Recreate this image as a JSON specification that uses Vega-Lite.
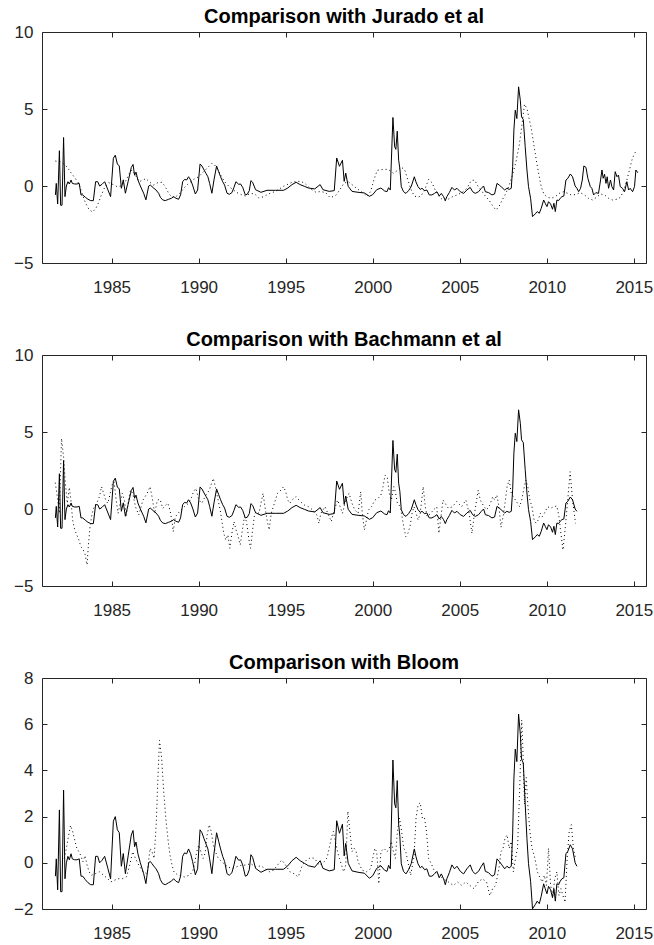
{
  "$schema": "https://vega.github.io/schema/vega-lite/v6.json",
  "padding": {"left": 13, "top": 6, "right": 2, "bottom": 2},
  "bounds": "flush",
  "spacing": 92,
  "config": {
    "font": "Liberation Sans",
    "view": {"stroke": "#262626", "strokeWidth": 1},
    "axis": {
      "grid": false,
      "domain": false,
      "title": null,
      "tickColor": "#262626",
      "tickWidth": 1,
      "tickSize": -5,
      "labelColor": "#262626",
      "labelFont": "Liberation Sans",
      "labelFontSize": 17
    },
    "axisX": {"labelPadding": 21},
    "axisY": {"labelPadding": 14},
    "title": {"font": "Liberation Sans", "fontSize": 20, "fontWeight": "bold", "color": "#000000", "anchor": "middle", "offset": -4},
    "line": {"strokeWidth": 1}
  },
  "datasets": {
    "solid": [
      {"t":1981.77,"v":-0.58},{"t":1981.82,"v":0.17},{"t":1981.90,"v":-1.17},{"t":1982.00,"v":2.29},{"t":1982.07,"v":-1.25},{"t":1982.15,"v":-1.25},{"t":1982.24,"v":3.15},{"t":1982.32,"v":-0.69},{"t":1982.40,"v":0.0},{"t":1982.49,"v":0.28},{"t":1982.57,"v":0.13},{"t":1982.67,"v":0.39},{"t":1982.74,"v":0.17},{"t":1982.88,"v":0.13},{"t":1983.01,"v":0.13},{"t":1983.14,"v":0.17},{"t":1983.24,"v":-0.58},{"t":1983.34,"v":-0.58},{"t":1983.49,"v":-0.73},{"t":1983.64,"v":-0.86},{"t":1983.80,"v":-0.95},{"t":1983.95,"v":-0.95},{"t":1984.08,"v":0.28},{"t":1984.20,"v":0.28},{"t":1984.31,"v":0.0},{"t":1984.45,"v":0.11},{"t":1984.60,"v":0.28},{"t":1984.79,"v":-0.26},{"t":1984.94,"v":-0.69},{"t":1985.10,"v":1.8},{"t":1985.21,"v":2.0},{"t":1985.33,"v":1.43},{"t":1985.44,"v":1.3},{"t":1985.56,"v":-0.15},{"t":1985.67,"v":0.4},{"t":1985.79,"v":-0.47},{"t":1985.95,"v":0.3},{"t":1986.13,"v":1.2},{"t":1986.23,"v":1.4},{"t":1986.32,"v":0.7},{"t":1986.40,"v":0.9},{"t":1986.51,"v":0.39},{"t":1986.65,"v":0.0},{"t":1986.84,"v":-0.47},{"t":1986.97,"v":-0.9},{"t":1987.13,"v":0.0},{"t":1987.22,"v":0.06},{"t":1987.32,"v":-0.04},{"t":1987.43,"v":-0.15},{"t":1987.55,"v":-0.26},{"t":1987.70,"v":-0.47},{"t":1987.80,"v":-0.73},{"t":1987.93,"v":-0.9},{"t":1988.08,"v":-0.95},{"t":1988.28,"v":-0.86},{"t":1988.43,"v":-0.8},{"t":1988.56,"v":-0.69},{"t":1988.70,"v":-0.8},{"t":1988.85,"v":-0.86},{"t":1988.96,"v":-0.58},{"t":1989.08,"v":0.28},{"t":1989.19,"v":0.43},{"t":1989.31,"v":0.39},{"t":1989.42,"v":0.6},{"t":1989.54,"v":0.39},{"t":1989.65,"v":0.06},{"t":1989.81,"v":-0.52},{"t":1989.94,"v":-0.26},{"t":1990.08,"v":1.43},{"t":1990.19,"v":1.3},{"t":1990.31,"v":1.04},{"t":1990.42,"v":0.82},{"t":1990.53,"v":0.6},{"t":1990.63,"v":0.17},{"t":1990.76,"v":-0.47},{"t":1990.88,"v":0.39},{"t":1991.03,"v":1.3},{"t":1991.15,"v":0.93},{"t":1991.26,"v":0.6},{"t":1991.38,"v":0.28},{"t":1991.49,"v":0.06},{"t":1991.63,"v":-0.47},{"t":1991.76,"v":-0.54},{"t":1991.91,"v":-0.43},{"t":1992.03,"v":-0.09},{"t":1992.14,"v":0.28},{"t":1992.30,"v":0.11},{"t":1992.41,"v":0.13},{"t":1992.53,"v":-0.09},{"t":1992.68,"v":-0.58},{"t":1992.79,"v":-0.54},{"t":1992.91,"v":-0.3},{"t":1993.00,"v":0.35},{"t":1993.10,"v":0.24},{"t":1993.27,"v":-0.24},{"t":1993.58,"v":-0.41},{"t":1993.93,"v":-0.28},{"t":1994.41,"v":-0.28},{"t":1994.88,"v":-0.28},{"t":1995.12,"v":-0.13},{"t":1995.36,"v":0.09},{"t":1995.60,"v":0.24},{"t":1995.83,"v":0.09},{"t":1996.07,"v":-0.02},{"t":1996.31,"v":-0.13},{"t":1996.67,"v":-0.19},{"t":1996.98,"v":0.09},{"t":1997.14,"v":-0.24},{"t":1997.50,"v":-0.35},{"t":1997.79,"v":-0.3},{"t":1997.93,"v":1.82},{"t":1998.09,"v":1.28},{"t":1998.26,"v":1.67},{"t":1998.36,"v":0.3},{"t":1998.45,"v":0.84},{"t":1998.59,"v":-0.02},{"t":1998.81,"v":-0.35},{"t":1999.16,"v":-0.41},{"t":1999.52,"v":-0.45},{"t":1999.81,"v":-0.67},{"t":2000.00,"v":-0.56},{"t":2000.23,"v":-0.24},{"t":2000.47,"v":-0.13},{"t":2000.68,"v":-0.32},{"t":2000.82,"v":-0.37},{"t":2000.91,"v":-0.11},{"t":2001.01,"v":-0.26},{"t":2001.16,"v":4.45},{"t":2001.26,"v":2.55},{"t":2001.33,"v":2.38},{"t":2001.41,"v":3.56},{"t":2001.49,"v":1.68},{"t":2001.56,"v":1.14},{"t":2001.64,"v":-0.04},{"t":2001.77,"v":-0.37},{"t":2001.91,"v":-0.48},{"t":2002.06,"v":-0.3},{"t":2002.21,"v":-0.04},{"t":2002.39,"v":0.6},{"t":2002.48,"v":0.28},{"t":2002.60,"v":-0.04},{"t":2002.73,"v":-0.22},{"t":2002.83,"v":-0.15},{"t":2002.98,"v":-0.3},{"t":2003.11,"v":-0.26},{"t":2003.25,"v":-0.58},{"t":2003.40,"v":-0.58},{"t":2003.55,"v":-0.48},{"t":2003.69,"v":-0.37},{"t":2003.82,"v":-0.65},{"t":2003.94,"v":-0.48},{"t":2004.07,"v":-0.69},{"t":2004.17,"v":-0.95},{"t":2004.26,"v":-0.69},{"t":2004.40,"v":-0.43},{"t":2004.55,"v":-0.09},{"t":2004.70,"v":-0.26},{"t":2004.84,"v":-0.15},{"t":2005.03,"v":-0.37},{"t":2005.22,"v":-0.48},{"t":2005.41,"v":-0.26},{"t":2005.60,"v":-0.09},{"t":2005.74,"v":-0.37},{"t":2005.89,"v":-0.48},{"t":2006.08,"v":-0.37},{"t":2006.24,"v":-0.15},{"t":2006.37,"v":0.0},{"t":2006.47,"v":-0.37},{"t":2006.66,"v":-0.43},{"t":2006.85,"v":-0.58},{"t":2007.00,"v":-0.52},{"t":2007.14,"v":0.17},{"t":2007.27,"v":0.06},{"t":2007.42,"v":-0.09},{"t":2007.58,"v":-0.26},{"t":2007.71,"v":-0.15},{"t":2007.84,"v":-0.22},{"t":2007.96,"v":-0.15},{"t":2008.04,"v":1.25},{"t":2008.11,"v":3.63},{"t":2008.19,"v":4.92},{"t":2008.28,"v":4.38},{"t":2008.38,"v":6.44},{"t":2008.48,"v":5.57},{"t":2008.55,"v":4.49},{"t":2008.65,"v":4.32},{"t":2008.76,"v":2.55},{"t":2008.86,"v":1.04},{"t":2008.95,"v":-0.04},{"t":2009.07,"v":-0.8},{"t":2009.18,"v":-1.99},{"t":2009.34,"v":-1.81},{"t":2009.45,"v":-1.66},{"t":2009.57,"v":-1.77},{"t":2009.68,"v":-1.45},{"t":2009.82,"v":-0.91},{"t":2009.91,"v":-1.12},{"t":2010.01,"v":-1.34},{"t":2010.10,"v":-1.02},{"t":2010.22,"v":-1.17},{"t":2010.33,"v":-1.51},{"t":2010.41,"v":-1.12},{"t":2010.49,"v":-1.66},{"t":2010.58,"v":-0.91},{"t":2010.68,"v":-0.95},{"t":2010.77,"v":-0.8},{"t":2010.87,"v":-0.69},{"t":2010.98,"v":-0.65},{"t":2011.10,"v":0.39},{"t":2011.21,"v":0.5},{"t":2011.35,"v":0.78},{"t":2011.48,"v":0.6},{"t":2011.63,"v":0.0},{"t":2011.73,"v":-0.15},{"t":2011.83,"v":-0.37},{"t":2011.94,"v":-0.15},{"t":2012.04,"v":0.39},{"t":2012.13,"v":1.3},{"t":2012.25,"v":1.21},{"t":2012.36,"v":0.5},{"t":2012.50,"v":-0.04},{"t":2012.59,"v":-0.15},{"t":2012.69,"v":-0.58},{"t":2012.82,"v":-0.43},{"t":2012.97,"v":-0.48},{"t":2013.09,"v":0.39},{"t":2013.17,"v":1.04},{"t":2013.24,"v":0.5},{"t":2013.32,"v":0.76},{"t":2013.40,"v":0.17},{"t":2013.47,"v":0.6},{"t":2013.55,"v":-0.15},{"t":2013.66,"v":0.39},{"t":2013.74,"v":-0.04},{"t":2013.84,"v":-0.26},{"t":2013.93,"v":0.93},{"t":2014.03,"v":0.6},{"t":2014.12,"v":0.71},{"t":2014.22,"v":-0.04},{"t":2014.35,"v":-0.15},{"t":2014.47,"v":-0.37},{"t":2014.60,"v":0.28},{"t":2014.70,"v":-0.26},{"t":2014.79,"v":-0.15},{"t":2014.93,"v":-0.37},{"t":2015.04,"v":-0.04},{"t":2015.12,"v":1.04},{"t":2015.23,"v":0.86}
    ],
    "jurado": [
      {"t":1981.77,"v":1.62},{"t":1982.05,"v":1.58},{"t":1982.34,"v":1.36},{"t":1982.53,"v":1.08},{"t":1982.72,"v":0.78},{"t":1982.91,"v":0.5},{"t":1983.11,"v":0.17},{"t":1983.30,"v":-0.48},{"t":1983.49,"v":-1.08},{"t":1983.72,"v":-1.56},{"t":1983.91,"v":-1.68},{"t":1984.10,"v":-1.45},{"t":1984.25,"v":-1.08},{"t":1984.41,"v":-0.58},{"t":1984.60,"v":-0.09},{"t":1984.83,"v":0.22},{"t":1985.02,"v":0.13},{"t":1985.31,"v":-0.04},{"t":1985.56,"v":0.0},{"t":1985.79,"v":0.28},{"t":1986.02,"v":0.82},{"t":1986.17,"v":1.04},{"t":1986.36,"v":0.71},{"t":1986.59,"v":0.28},{"t":1986.80,"v":0.39},{"t":1986.97,"v":0.48},{"t":1987.16,"v":0.28},{"t":1987.41,"v":0.06},{"t":1987.66,"v":0.22},{"t":1987.89,"v":0.24},{"t":1988.08,"v":-0.04},{"t":1988.28,"v":-0.48},{"t":1988.47,"v":-0.73},{"t":1988.70,"v":-0.69},{"t":1988.95,"v":-0.43},{"t":1989.19,"v":-0.09},{"t":1989.42,"v":0.17},{"t":1989.71,"v":0.43},{"t":1990.00,"v":0.6},{"t":1990.29,"v":0.93},{"t":1990.53,"v":1.21},{"t":1990.76,"v":1.47},{"t":1990.92,"v":1.36},{"t":1991.11,"v":1.04},{"t":1991.30,"v":0.65},{"t":1991.49,"v":0.28},{"t":1991.72,"v":0.0},{"t":1991.95,"v":-0.22},{"t":1992.20,"v":-0.43},{"t":1992.45,"v":-0.56},{"t":1992.68,"v":-0.65},{"t":1992.97,"v":-0.48},{"t":1993.22,"v":-0.52},{"t":1993.46,"v":-0.78},{"t":1993.70,"v":-0.71},{"t":1994.05,"v":-0.5},{"t":1994.41,"v":-0.35},{"t":1994.88,"v":-0.02},{"t":1995.36,"v":0.24},{"t":1995.65,"v":0.3},{"t":1995.88,"v":0.3},{"t":1996.12,"v":0.15},{"t":1996.43,"v":-0.19},{"t":1996.74,"v":-0.41},{"t":1997.02,"v":-0.35},{"t":1997.31,"v":-0.45},{"t":1997.55,"v":-0.76},{"t":1997.86,"v":-0.63},{"t":1998.09,"v":-0.28},{"t":1998.33,"v":0.15},{"t":1998.57,"v":0.3},{"t":1998.81,"v":0.09},{"t":1999.12,"v":-0.19},{"t":1999.45,"v":-0.45},{"t":1999.69,"v":-0.67},{"t":1999.88,"v":-0.35},{"t":2000.07,"v":0.41},{"t":2000.26,"v":1.02},{"t":2000.47,"v":1.06},{"t":2000.82,"v":1.08},{"t":2001.01,"v":0.99},{"t":2001.20,"v":0.82},{"t":2001.39,"v":0.99},{"t":2001.64,"v":1.21},{"t":2001.83,"v":1.08},{"t":2002.02,"v":0.39},{"t":2002.21,"v":-0.26},{"t":2002.39,"v":-0.65},{"t":2002.58,"v":-0.73},{"t":2002.77,"v":-0.65},{"t":2002.98,"v":-0.26},{"t":2003.21,"v":0.43},{"t":2003.40,"v":0.22},{"t":2003.59,"v":-0.26},{"t":2003.79,"v":-0.65},{"t":2003.98,"v":-0.86},{"t":2004.17,"v":-0.95},{"t":2004.36,"v":-0.84},{"t":2004.59,"v":-0.69},{"t":2004.84,"v":-0.58},{"t":2005.12,"v":-0.43},{"t":2005.41,"v":-0.15},{"t":2005.66,"v":0.35},{"t":2005.85,"v":0.39},{"t":2006.04,"v":0.0},{"t":2006.24,"v":-0.3},{"t":2006.47,"v":-0.65},{"t":2006.70,"v":-0.95},{"t":2006.92,"v":-1.34},{"t":2007.08,"v":-1.56},{"t":2007.27,"v":-1.3},{"t":2007.46,"v":-0.86},{"t":2007.65,"v":-0.48},{"t":2007.84,"v":0.06},{"t":2008.03,"v":0.71},{"t":2008.23,"v":1.58},{"t":2008.42,"v":2.66},{"t":2008.57,"v":3.95},{"t":2008.72,"v":5.31},{"t":2008.86,"v":5.03},{"t":2008.97,"v":4.45},{"t":2009.09,"v":3.84},{"t":2009.20,"v":3.09},{"t":2009.32,"v":2.22},{"t":2009.43,"v":1.47},{"t":2009.55,"v":0.71},{"t":2009.68,"v":-0.04},{"t":2009.84,"v":-0.54},{"t":2010.03,"v":-0.73},{"t":2010.26,"v":-0.8},{"t":2010.49,"v":-0.69},{"t":2010.72,"v":-0.48},{"t":2010.96,"v":-0.37},{"t":2011.21,"v":-0.48},{"t":2011.44,"v":-0.6},{"t":2011.67,"v":-0.54},{"t":2011.92,"v":-0.43},{"t":2012.17,"v":-0.58},{"t":2012.40,"v":-0.8},{"t":2012.63,"v":-0.91},{"t":2012.86,"v":-0.73},{"t":2013.09,"v":-0.52},{"t":2013.32,"v":-0.58},{"t":2013.55,"v":-0.8},{"t":2013.78,"v":-0.91},{"t":2014.03,"v":-0.86},{"t":2014.24,"v":-0.73},{"t":2014.43,"v":-0.26},{"t":2014.60,"v":0.39},{"t":2014.76,"v":1.08},{"t":2014.89,"v":1.68},{"t":2015.02,"v":2.07},{"t":2015.14,"v":2.29}
    ],
    "bachmann": [
      {"t":1981.76,"v":1.71},{"t":1981.88,"v":0.8},{"t":1982.00,"v":-0.28},{"t":1982.12,"v":4.58},{"t":1982.24,"v":3.39},{"t":1982.33,"v":1.88},{"t":1982.45,"v":0.37},{"t":1982.57,"v":1.4},{"t":1982.66,"v":0.58},{"t":1982.76,"v":-0.71},{"t":1982.88,"v":-1.36},{"t":1983.00,"v":-1.68},{"t":1983.12,"v":-2.01},{"t":1983.23,"v":-2.44},{"t":1983.35,"v":-2.61},{"t":1983.47,"v":-2.92},{"t":1983.59,"v":-3.63},{"t":1983.66,"v":-2.44},{"t":1983.76,"v":-1.14},{"t":1983.88,"v":-0.28},{"t":1984.00,"v":0.15},{"t":1984.14,"v":0.37},{"t":1984.30,"v":0.8},{"t":1984.42,"v":1.45},{"t":1984.54,"v":1.02},{"t":1984.66,"v":0.58},{"t":1984.78,"v":0.37},{"t":1984.90,"v":0.91},{"t":1985.02,"v":1.56},{"t":1985.14,"v":1.77},{"t":1985.26,"v":0.58},{"t":1985.37,"v":-0.28},{"t":1985.49,"v":0.37},{"t":1985.61,"v":1.02},{"t":1985.73,"v":0.58},{"t":1985.85,"v":-0.45},{"t":1985.97,"v":0.58},{"t":1986.09,"v":1.23},{"t":1986.21,"v":1.02},{"t":1986.37,"v":0.15},{"t":1986.56,"v":-0.39},{"t":1986.80,"v":0.58},{"t":1987.04,"v":1.02},{"t":1987.21,"v":1.45},{"t":1987.32,"v":0.8},{"t":1987.47,"v":-0.28},{"t":1987.63,"v":0.58},{"t":1987.78,"v":0.63},{"t":1987.94,"v":0.04},{"t":1988.11,"v":0.26},{"t":1988.23,"v":0.37},{"t":1988.35,"v":-0.06},{"t":1988.47,"v":-0.82},{"t":1988.54,"v":-1.47},{"t":1988.66,"v":-0.5},{"t":1988.82,"v":-0.28},{"t":1988.99,"v":-0.06},{"t":1989.18,"v":0.15},{"t":1989.42,"v":0.37},{"t":1989.61,"v":0.8},{"t":1989.70,"v":1.12},{"t":1989.84,"v":1.34},{"t":1990.01,"v":0.58},{"t":1990.18,"v":0.37},{"t":1990.37,"v":0.8},{"t":1990.61,"v":1.23},{"t":1990.84,"v":1.99},{"t":1990.96,"v":1.45},{"t":1991.08,"v":0.8},{"t":1991.27,"v":-0.28},{"t":1991.44,"v":-1.58},{"t":1991.56,"v":-2.01},{"t":1991.68,"v":-1.68},{"t":1991.79,"v":-2.55},{"t":1991.91,"v":-1.58},{"t":1992.03,"v":-0.82},{"t":1992.15,"v":-1.36},{"t":1992.27,"v":-1.79},{"t":1992.39,"v":-2.33},{"t":1992.51,"v":-1.36},{"t":1992.63,"v":-0.5},{"t":1992.75,"v":-0.82},{"t":1992.89,"v":-2.01},{"t":1992.98,"v":-2.55},{"t":1993.10,"v":-1.36},{"t":1993.22,"v":-0.28},{"t":1993.34,"v":-0.17},{"t":1993.46,"v":-0.28},{"t":1993.58,"v":0.37},{"t":1993.70,"v":1.02},{"t":1993.81,"v":0.15},{"t":1993.93,"v":-0.71},{"t":1994.05,"v":-1.36},{"t":1994.17,"v":-0.28},{"t":1994.29,"v":0.15},{"t":1994.41,"v":0.58},{"t":1994.53,"v":1.02},{"t":1994.65,"v":1.12},{"t":1994.88,"v":1.45},{"t":1995.00,"v":1.12},{"t":1995.12,"v":0.58},{"t":1995.24,"v":0.37},{"t":1995.36,"v":0.58},{"t":1995.60,"v":0.8},{"t":1995.84,"v":0.48},{"t":1996.07,"v":0.26},{"t":1996.31,"v":0.15},{"t":1996.55,"v":-0.06},{"t":1996.79,"v":-0.39},{"t":1996.91,"v":-0.93},{"t":1997.02,"v":-0.28},{"t":1997.26,"v":0.15},{"t":1997.50,"v":-0.5},{"t":1997.62,"v":-0.82},{"t":1997.74,"v":-0.28},{"t":1997.86,"v":0.15},{"t":1997.98,"v":0.58},{"t":1998.09,"v":0.26},{"t":1998.26,"v":-0.28},{"t":1998.45,"v":0.58},{"t":1998.64,"v":1.02},{"t":1998.81,"v":0.37},{"t":1998.97,"v":-0.06},{"t":1999.16,"v":-0.28},{"t":1999.31,"v":1.12},{"t":1999.40,"v":-0.28},{"t":1999.52,"v":-1.36},{"t":1999.64,"v":-0.71},{"t":1999.76,"v":-0.06},{"t":1999.93,"v":0.15},{"t":2000.12,"v":0.58},{"t":2000.31,"v":0.69},{"t":2000.47,"v":0.91},{"t":2000.59,"v":1.45},{"t":2000.71,"v":2.2},{"t":2000.83,"v":2.1},{"t":2000.95,"v":1.02},{"t":2001.07,"v":0.58},{"t":2001.21,"v":1.45},{"t":2001.30,"v":1.12},{"t":2001.42,"v":0.37},{"t":2001.59,"v":0.15},{"t":2001.78,"v":-1.14},{"t":2001.90,"v":-1.79},{"t":2002.02,"v":-1.58},{"t":2002.14,"v":-1.14},{"t":2002.26,"v":-0.28},{"t":2002.37,"v":0.15},{"t":2002.49,"v":-0.28},{"t":2002.61,"v":-0.71},{"t":2002.73,"v":-0.28},{"t":2002.90,"v":1.45},{"t":2003.02,"v":0.15},{"t":2003.13,"v":-0.5},{"t":2003.33,"v":-0.28},{"t":2003.49,"v":-0.06},{"t":2003.68,"v":0.15},{"t":2003.80,"v":-1.58},{"t":2003.92,"v":-0.5},{"t":2004.04,"v":0.58},{"t":2004.16,"v":0.37},{"t":2004.35,"v":0.04},{"t":2004.59,"v":0.15},{"t":2004.82,"v":0.48},{"t":2005.11,"v":0.15},{"t":2005.35,"v":0.58},{"t":2005.54,"v":-0.28},{"t":2005.70,"v":-1.58},{"t":2005.82,"v":-0.5},{"t":2005.94,"v":0.37},{"t":2006.06,"v":1.23},{"t":2006.18,"v":0.58},{"t":2006.34,"v":0.26},{"t":2006.54,"v":-0.06},{"t":2006.73,"v":0.26},{"t":2006.89,"v":0.8},{"t":2007.01,"v":0.58},{"t":2007.13,"v":0.91},{"t":2007.25,"v":0.15},{"t":2007.37,"v":-1.19},{"t":2007.49,"v":-0.5},{"t":2007.60,"v":0.37},{"t":2007.72,"v":1.45},{"t":2007.84,"v":1.88},{"t":2007.96,"v":1.02},{"t":2008.08,"v":0.8},{"t":2008.20,"v":0.58},{"t":2008.32,"v":0.37},{"t":2008.44,"v":0.15},{"t":2008.56,"v":0.58},{"t":2008.67,"v":1.23},{"t":2008.79,"v":1.88},{"t":2008.91,"v":1.45},{"t":2009.03,"v":0.58},{"t":2009.15,"v":0.15},{"t":2009.27,"v":-0.71},{"t":2009.39,"v":-0.93},{"t":2009.51,"v":-0.71},{"t":2009.63,"v":-0.28},{"t":2009.74,"v":-0.5},{"t":2009.86,"v":-0.28},{"t":2010.05,"v":0.15},{"t":2010.22,"v":0.04},{"t":2010.39,"v":0.15},{"t":2010.58,"v":0.19},{"t":2010.70,"v":-0.5},{"t":2010.81,"v":-1.58},{"t":2010.93,"v":-2.66},{"t":2011.05,"v":-1.36},{"t":2011.17,"v":0.15},{"t":2011.34,"v":2.42},{"t":2011.48,"v":0.58},{"t":2011.65,"v":-0.93}
    ],
    "bloom": [
      {"t":1982.28,"v":0.19},{"t":1982.40,"v":0.63},{"t":1982.52,"v":1.14},{"t":1982.64,"v":1.62},{"t":1982.76,"v":1.36},{"t":1982.88,"v":0.99},{"t":1983.00,"v":0.63},{"t":1983.12,"v":0.48},{"t":1983.23,"v":0.31},{"t":1983.35,"v":0.04},{"t":1983.47,"v":0.31},{"t":1983.59,"v":-0.1},{"t":1983.71,"v":-0.39},{"t":1983.83,"v":-0.54},{"t":1984.07,"v":-0.47},{"t":1984.30,"v":-0.39},{"t":1984.54,"v":-0.54},{"t":1984.78,"v":-0.69},{"t":1984.95,"v":-0.83},{"t":1985.14,"v":-0.76},{"t":1985.37,"v":-0.69},{"t":1985.61,"v":-0.69},{"t":1985.85,"v":-0.61},{"t":1986.04,"v":-0.1},{"t":1986.21,"v":0.48},{"t":1986.37,"v":0.19},{"t":1986.56,"v":-0.1},{"t":1986.80,"v":-0.39},{"t":1987.04,"v":-0.47},{"t":1987.21,"v":0.63},{"t":1987.32,"v":0.48},{"t":1987.44,"v":0.19},{"t":1987.56,"v":1.65},{"t":1987.66,"v":3.69},{"t":1987.75,"v":5.3},{"t":1987.87,"v":4.57},{"t":1987.99,"v":3.11},{"t":1988.11,"v":1.94},{"t":1988.23,"v":1.07},{"t":1988.35,"v":0.34},{"t":1988.47,"v":-0.1},{"t":1988.58,"v":-0.39},{"t":1988.82,"v":-0.54},{"t":1989.18,"v":-0.61},{"t":1989.46,"v":-0.54},{"t":1989.65,"v":-0.39},{"t":1989.77,"v":-0.03},{"t":1989.89,"v":0.48},{"t":1990.01,"v":0.77},{"t":1990.13,"v":0.48},{"t":1990.25,"v":0.19},{"t":1990.37,"v":0.41},{"t":1990.49,"v":1.21},{"t":1990.61,"v":1.65},{"t":1990.72,"v":1.36},{"t":1990.84,"v":0.77},{"t":1990.96,"v":0.48},{"t":1991.13,"v":0.19},{"t":1991.44,"v":-0.03},{"t":1991.68,"v":-0.18},{"t":1991.91,"v":-0.25},{"t":1992.15,"v":-0.18},{"t":1992.46,"v":-0.1},{"t":1992.75,"v":-0.1},{"t":1992.98,"v":-0.03},{"t":1993.27,"v":-0.18},{"t":1993.58,"v":-0.13},{"t":1993.81,"v":-0.25},{"t":1994.05,"v":-0.39},{"t":1994.29,"v":-0.32},{"t":1994.53,"v":-0.1},{"t":1994.77,"v":0.12},{"t":1995.00,"v":-0.1},{"t":1995.24,"v":-0.39},{"t":1995.48,"v":-0.47},{"t":1995.72,"v":-0.61},{"t":1995.96,"v":-0.1},{"t":1996.19,"v":0.12},{"t":1996.43,"v":0.22},{"t":1996.67,"v":0.19},{"t":1996.91,"v":-0.1},{"t":1997.14,"v":-0.03},{"t":1997.38,"v":0.22},{"t":1997.62,"v":1.07},{"t":1997.74,"v":1.36},{"t":1997.86,"v":0.92},{"t":1997.98,"v":0.48},{"t":1998.09,"v":0.19},{"t":1998.21,"v":-0.1},{"t":1998.33,"v":-0.39},{"t":1998.45,"v":-0.1},{"t":1998.57,"v":2.23},{"t":1998.69,"v":1.36},{"t":1998.81,"v":0.48},{"t":1998.93,"v":0.63},{"t":1999.05,"v":0.48},{"t":1999.16,"v":0.04},{"t":1999.40,"v":-0.32},{"t":1999.64,"v":-0.39},{"t":1999.88,"v":-0.25},{"t":2000.12,"v":0.63},{"t":2000.23,"v":0.48},{"t":2000.35,"v":-0.91},{"t":2000.47,"v":0.48},{"t":2000.64,"v":0.63},{"t":2000.83,"v":0.48},{"t":2000.95,"v":0.63},{"t":2001.07,"v":0.92},{"t":2001.19,"v":0.48},{"t":2001.30,"v":0.19},{"t":2001.42,"v":1.36},{"t":2001.54,"v":1.94},{"t":2001.66,"v":1.36},{"t":2001.78,"v":0.63},{"t":2001.90,"v":0.48},{"t":2002.02,"v":0.04},{"t":2002.18,"v":-0.54},{"t":2002.37,"v":0.26},{"t":2002.49,"v":1.94},{"t":2002.61,"v":2.53},{"t":2002.73,"v":2.6},{"t":2002.85,"v":1.94},{"t":2002.97,"v":1.97},{"t":2003.09,"v":1.36},{"t":2003.21,"v":0.19},{"t":2003.40,"v":-0.1},{"t":2003.56,"v":-0.39},{"t":2003.80,"v":-0.54},{"t":2004.04,"v":-0.69},{"t":2004.35,"v":-0.83},{"t":2004.63,"v":-0.98},{"t":2004.87,"v":-0.83},{"t":2005.11,"v":-0.98},{"t":2005.35,"v":-0.83},{"t":2005.58,"v":-0.98},{"t":2005.82,"v":-1.12},{"t":2006.06,"v":-0.83},{"t":2006.30,"v":-0.69},{"t":2006.54,"v":-0.83},{"t":2006.73,"v":-1.42},{"t":2006.89,"v":-1.12},{"t":2007.06,"v":-0.98},{"t":2007.25,"v":-0.25},{"t":2007.37,"v":0.48},{"t":2007.49,"v":0.63},{"t":2007.60,"v":1.07},{"t":2007.72,"v":1.21},{"t":2007.84,"v":0.63},{"t":2007.96,"v":0.92},{"t":2008.08,"v":-0.39},{"t":2008.20,"v":0.19},{"t":2008.32,"v":0.63},{"t":2008.44,"v":3.11},{"t":2008.56,"v":6.18},{"t":2008.63,"v":4.86},{"t":2008.72,"v":2.53},{"t":2008.82,"v":3.69},{"t":2008.91,"v":2.53},{"t":2009.03,"v":1.36},{"t":2009.15,"v":0.63},{"t":2009.32,"v":0.19},{"t":2009.46,"v":-0.39},{"t":2009.63,"v":-0.69},{"t":2009.74,"v":-0.83},{"t":2009.86,"v":-0.54},{"t":2009.98,"v":-0.98},{"t":2010.10,"v":0.63},{"t":2010.22,"v":-0.98},{"t":2010.34,"v":-1.42},{"t":2010.46,"v":-0.69},{"t":2010.58,"v":-0.39},{"t":2010.70,"v":-1.42},{"t":2010.81,"v":-1.12},{"t":2010.93,"v":-1.42},{"t":2011.05,"v":-1.71},{"t":2011.17,"v":0.19},{"t":2011.29,"v":1.36},{"t":2011.41,"v":1.65},{"t":2011.53,"v":0.63},{"t":2011.65,"v":0.19}
    ]
  },
  "vconcat": [
    {
      "title": "Comparison with Jurado et al",
      "width": 604,
      "height": 231,
      "layer": [
        {
          "data": {"name": "solid"},
          "mark": {"type": "line", "color": "#000000", "strokeWidth": 1},
          "encoding": {
            "x": {"field": "t", "type": "quantitative", "scale": {"domain": [1981, 2015.7], "nice": false, "zero": false},
                  "axis": {"orient": "bottom", "values": [1985, 1990, 1995, 2000, 2005, 2010, 2015], "format": "d"}},
            "y": {"field": "v", "type": "quantitative", "scale": {"domain": [-5, 10], "nice": false, "zero": false},
                  "axis": {"orient": "left", "values": [-5, 0, 5, 10]}}
          }
        },
        {
          "data": {"name": "jurado"},
          "mark": {"type": "line", "color": "#000000", "strokeWidth": 1, "strokeDash": [1, 3]},
          "encoding": {
            "x": {"field": "t", "type": "quantitative", "axis": {"orient": "top", "labels": false, "values": [1985, 1990, 1995, 2000, 2005, 2010, 2015]}},
            "y": {"field": "v", "type": "quantitative", "axis": {"orient": "right", "labels": false, "values": [-5, 0, 5, 10]}}
          }
        }
      ]
    },
    {
      "title": "Comparison with Bachmann et al",
      "width": 604,
      "height": 231,
      "layer": [
        {
          "data": {"name": "solid"},
          "transform": [{"filter": "datum.t <= 2011.75"}],
          "mark": {"type": "line", "color": "#000000", "strokeWidth": 1},
          "encoding": {
            "x": {"field": "t", "type": "quantitative", "scale": {"domain": [1981, 2015.7], "nice": false, "zero": false},
                  "axis": {"orient": "bottom", "values": [1985, 1990, 1995, 2000, 2005, 2010, 2015], "format": "d"}},
            "y": {"field": "v", "type": "quantitative", "scale": {"domain": [-5, 10], "nice": false, "zero": false},
                  "axis": {"orient": "left", "values": [-5, 0, 5, 10]}}
          }
        },
        {
          "data": {"name": "bachmann"},
          "mark": {"type": "line", "color": "#000000", "strokeWidth": 1, "strokeDash": [1, 3]},
          "encoding": {
            "x": {"field": "t", "type": "quantitative", "axis": {"orient": "top", "labels": false, "values": [1985, 1990, 1995, 2000, 2005, 2010, 2015]}},
            "y": {"field": "v", "type": "quantitative", "axis": {"orient": "right", "labels": false, "values": [-5, 0, 5, 10]}}
          }
        }
      ]
    },
    {
      "title": "Comparison with Bloom",
      "width": 604,
      "height": 231,
      "layer": [
        {
          "data": {"name": "solid"},
          "transform": [{"filter": "datum.t <= 2011.75"}],
          "mark": {"type": "line", "color": "#000000", "strokeWidth": 1},
          "encoding": {
            "x": {"field": "t", "type": "quantitative", "scale": {"domain": [1981, 2015.7], "nice": false, "zero": false},
                  "axis": {"orient": "bottom", "values": [1985, 1990, 1995, 2000, 2005, 2010, 2015], "format": "d"}},
            "y": {"field": "v", "type": "quantitative", "scale": {"domain": [-2, 8], "nice": false, "zero": false},
                  "axis": {"orient": "left", "values": [-2, 0, 2, 4, 6, 8]}}
          }
        },
        {
          "data": {"name": "bloom"},
          "mark": {"type": "line", "color": "#000000", "strokeWidth": 1, "strokeDash": [1, 3]},
          "encoding": {
            "x": {"field": "t", "type": "quantitative", "axis": {"orient": "top", "labels": false, "values": [1985, 1990, 1995, 2000, 2005, 2010, 2015]}},
            "y": {"field": "v", "type": "quantitative", "axis": {"orient": "right", "labels": false, "values": [-2, 0, 2, 4, 6, 8]}}
          }
        }
      ]
    }
  ]
}
